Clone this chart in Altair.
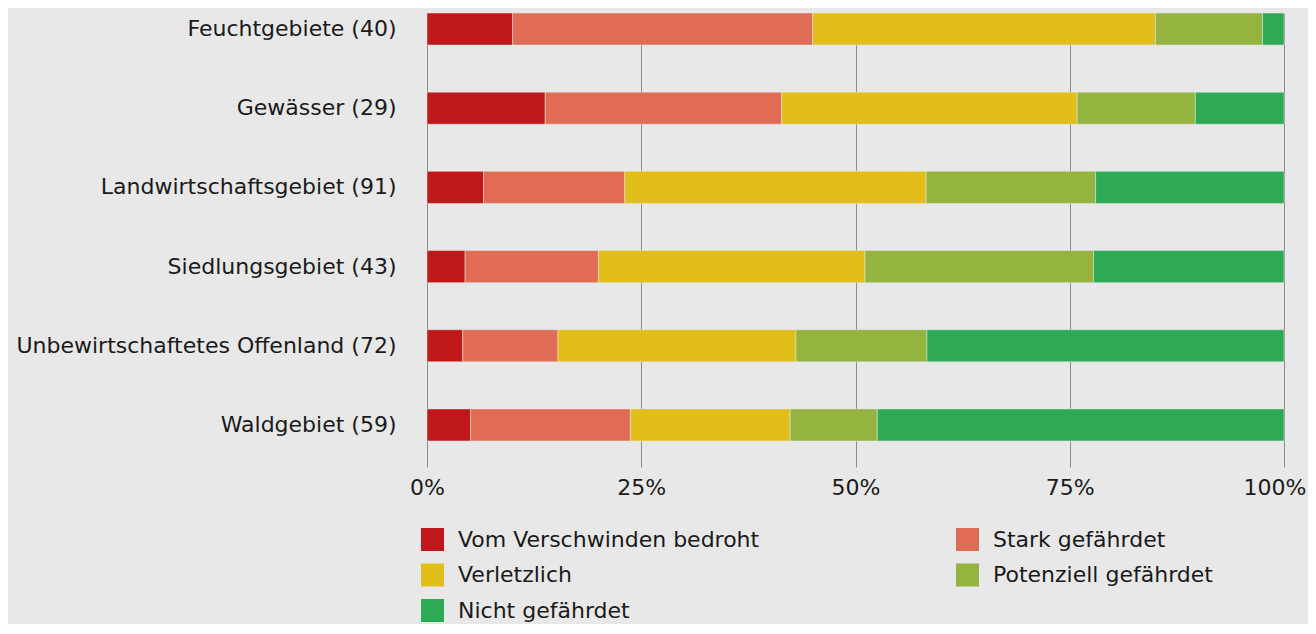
import altair as alt
import pandas as pd

categories = [
    "Feuchtgebiete (40)",
    "Gewässer (29)",
    "Landwirtschaftsgebiet (91)",
    "Siedlungsgebiet (43)",
    "Unbewirtschaftetes Offenland (72)",
    "Waldgebiet (59)",
]
statuses = [
    "Vom Verschwinden bedroht",
    "Stark gefährdet",
    "Verletzlich",
    "Potenziell gefährdet",
    "Nicht gefährdet",
]
colors = ["#c0181a", "#e06c55", "#e2be1a", "#95b33f", "#2eaa55"]

bedroht = [4, 4, 6, 2, 3, 3]
stark = [14, 8, 15, 7, 8, 11]
verletzlich = [16, 10, 32, 14, 20, 11]
potenziell = [5, 4, 18, 12, 11, 6]
nicht = [1, 3, 20, 10, 30, 28]

series = [bedroht, stark, verletzlich, potenziell, nicht]
rows = []
for si, (status, vals) in enumerate(zip(statuses, series)):
    for cat, v in zip(categories, vals):
        rows.append({"category": cat, "status": status, "count": v, "idx": si})
df = pd.DataFrame(rows)

FONT = "DejaVu Sans"
BG = "#e8e8e8"

chart = (
    alt.Chart(df)
    .mark_bar(stroke=BG, strokeWidth=0.5)
    .encode(
        x=alt.X(
            "count:Q",
            stack="normalize",
            scale=alt.Scale(domain=[0, 1], nice=False),
            axis=alt.Axis(
                title=None,
                format="%",
                values=[0, 0.25, 0.5, 0.75, 1],
                domain=False,
                grid=True,
                gridColor="#8c8c8c",
                gridWidth=1,
                tickColor="#8c8c8c",
                tickSize=26,
                labelPadding=10,
                labelFlush=False,
                labelAlign={
                    "condition": {"test": "datum.value == 1", "value": "right"},
                    "value": "center",
                },
                labelOffset={
                    "condition": {"test": "datum.value == 1", "value": 22},
                    "value": 0,
                },
                labelFont=FONT,
                labelFontSize=22,
                labelColor="#1a1a1a",
            ),
        ),
        y=alt.Y(
            "category:N",
            sort=categories,
            scale=alt.Scale(paddingInner=0.595, paddingOuter=0),
            axis=alt.Axis(
                title=None,
                ticks=False,
                domain=False,
                grid=False,
                labelPadding=31,
                labelFont=FONT,
                labelFontSize=22,
                labelColor="#1a1a1a",
                labelLimit=500,
            ),
        ),
        color=alt.Color(
            "status:N",
            scale=alt.Scale(domain=statuses, range=colors),
            legend=alt.Legend(
                title=None,
                orient="none",
                legendX=-6,
                legendY=515,
                columns=2,
                direction="horizontal",
                symbolType="square",
                symbolSize=529,
                symbolStrokeWidth=0,
                labelFont=FONT,
                labelFontSize=22,
                labelColor="#1a1a1a",
                labelOffset=14,
                labelLimit=500,
                columnPadding=196,
                rowPadding=12.5,
            ),
        ),
        order=alt.Order("idx:Q"),
    )
    .properties(
        width=857,
        height=428,
        autosize=alt.AutoSizeParams(type="none"),
        padding={"left": 419, "top": 5, "right": 24, "bottom": 183},
        background=BG,
    )
    .configure_view(stroke=None)
)

chart.save("out.html", embed_options={"renderer": "svg", "actions": False})
